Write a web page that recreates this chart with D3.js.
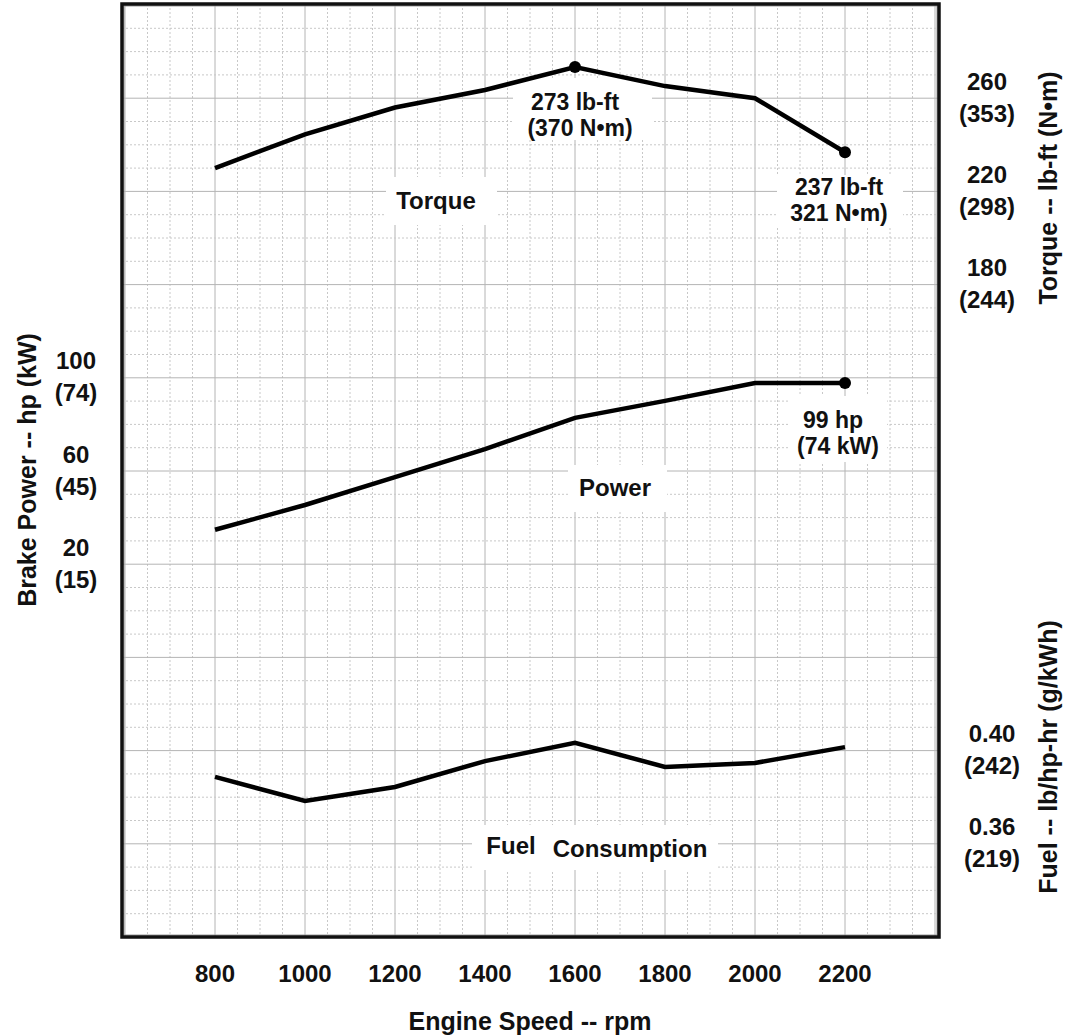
<!DOCTYPE html>
<html><head><meta charset="utf-8">
<script src="https://cdn.jsdelivr.net/npm/d3@7"></script>
<style>
html,body{margin:0;padding:0;background:#fff;}
svg text{font-family:"Liberation Sans",Arial,Helvetica,sans-serif;font-weight:bold;fill:#111;}
</style></head>
<body><svg id="c" width="1068" height="1035"></svg>
<script>
// ---- data ----
const rpm = [800, 1000, 1200, 1400, 1600, 1800, 2000, 2200];
const torqueLbFt = [230, 244.5, 256, 263.5, 273.4, 265.2, 260, 236.8];
const powerHp = [34.8, 45.4, 57.4, 69.4, 82.8, 90.1, 97.8, 97.8];
const fuelLbHpHr = [0.3887, 0.3784, 0.3844, 0.3955, 0.4033, 0.393, 0.3947, 0.4015];

const xTicks = [800, 1000, 1200, 1400, 1600, 1800, 2000, 2200];
const powerTicks = [100, 60, 20];
const powerTicksKw = ["(74)", "(45)", "(15)"];
const torqueTicks = [260, 220, 180];
const torqueTicksNm = ["(353)", "(298)", "(244)"];
const fuelTicks = [0.40, 0.36];
const fuelTicksGkWh = ["(242)", "(219)"];

const torqueMarkers = [1600, 2200];
const powerMarkers = [2200];

// ---- layout ----
const svg = d3.select("#c");
const L = 122, R = 939, T = 4, B = 937;
const gy = d3.scaleLinear().domain([0, 40]).range([5, 937]);   // grid rows (minor)
const x = d3.scaleLinear().domain([600, 2400]).range([125, 935]);
const yTorque = d3.scaleLinear().domain([260, 180]).range([gy(4), gy(12)]);
const yPower = d3.scaleLinear().domain([100, 20]).range([gy(16), gy(24)]);
const yFuel = d3.scaleLinear().domain([0.40, 0.36]).range([gy(32), gy(36)]);

// grid
const g = svg.append("g");
const vLines = d3.range(600, 2401, 50);
g.selectAll("line.v").data(vLines).enter().append("line")
  .attr("x1", d => x(d)).attr("x2", d => x(d)).attr("y1", T).attr("y2", B)
  .attr("stroke", d => d % 200 === 0 ? "#b4b4b4" : "#c8c8c8")
  .attr("stroke-width", 1)
  .attr("stroke-dasharray", d => d % 200 === 0 ? null : "2,2");
const hLines = d3.range(0, 41);
g.selectAll("line.h").data(hLines).enter().append("line")
  .attr("x1", L).attr("x2", R).attr("y1", d => gy(d)).attr("y2", d => gy(d))
  .attr("stroke", d => d % 4 === 0 ? "#b4b4b4" : "#c8c8c8")
  .attr("stroke-width", 1)
  .attr("stroke-dasharray", d => d % 4 === 0 ? null : "2,2");

// label boxes (white)
const boxes = [
  [513, 78, 139, 62], [777, 175, 126, 53], [790, 396, 97, 66],
  [386, 177, 111, 48], [568, 465, 99, 47], [472, 825, 246, 45]
];
svg.selectAll("rect.box").data(boxes).enter().append("rect")
  .attr("x", d => d[0]).attr("y", d => d[1]).attr("width", d => d[2]).attr("height", d => d[3])
  .attr("fill", "#fff");

// lines
function drawLine(vals, ys) {
  const line = d3.line().x((d, i) => x(rpm[i])).y(d => ys(d));
  svg.append("path").datum(vals).attr("d", line)
    .attr("fill", "none").attr("stroke", "#000").attr("stroke-width", 4.5)
    .attr("stroke-linejoin", "miter");
}
drawLine(torqueLbFt, yTorque);
drawLine(powerHp, yPower);
drawLine(fuelLbHpHr, yFuel);

svg.selectAll("circle.t").data(torqueMarkers).enter().append("circle")
  .attr("cx", d => x(d)).attr("cy", d => yTorque(torqueLbFt[rpm.indexOf(d)])).attr("r", 6).attr("fill", "#000");
svg.selectAll("circle.p").data(powerMarkers).enter().append("circle")
  .attr("cx", d => x(d)).attr("cy", d => yPower(powerHp[rpm.indexOf(d)])).attr("r", 6).attr("fill", "#000");

// border (dark frame with faint gray shadow)
svg.append("rect").attr("x", L + 2).attr("y", T + 2).attr("width", R - L - 4).attr("height", B - T - 4)
  .attr("fill", "none").attr("stroke", "#999").attr("stroke-width", 1);
svg.append("rect").attr("x", L).attr("y", T).attr("width", R - L).attr("height", B - T)
  .attr("fill", "none").attr("stroke", "#111").attr("stroke-width", 3.5);

// annotations
function txt(s, cx, cy, size) {
  svg.append("text").attr("x", cx).attr("y", cy + (size || 24) * 0.36)
    .attr("text-anchor", "middle").attr("font-size", size || 24).text(s);
}
txt("273 lb-ft", 575, 102, 23);
txt("(370 N\u2022m)", 580, 128, 23);
txt("237 lb-ft", 839, 187, 23);
txt("321 N\u2022m)", 839, 213, 23);
txt("99 hp", 833, 420, 23);
txt("(74 kW)", 838, 446, 23);
txt("Torque", 436, 200);
txt("Power", 615, 487);
txt("Fuel", 511, 845);
txt("Consumption", 630, 848);

// x ticks
svg.selectAll("text.xt").data(xTicks).enter().append("text")
  .attr("x", d => x(d)).attr("y", 982).attr("text-anchor", "middle").attr("font-size", 24)
  .text(d => d);
svg.append("text").attr("x", 530).attr("y", 1030).attr("text-anchor", "middle")
  .attr("font-size", 25).text("Engine Speed -- rpm");

// tick label pairs
function pairTicks(vals, alt, scale, cx) {
  vals.forEach((v, i) => {
    svg.append("text").attr("x", cx).attr("y", scale(v) - 8.5).attr("text-anchor", "middle")
      .attr("font-size", 24).text(typeof v === "number" && v < 1 ? v.toFixed(2) : v);
    svg.append("text").attr("x", cx).attr("y", scale(v) + 23.5).attr("text-anchor", "middle")
      .attr("font-size", 24).text(alt[i]);
  });
}
pairTicks(powerTicks, powerTicksKw, yPower, 76);
pairTicks(torqueTicks, torqueTicksNm, yTorque, 987);
pairTicks(fuelTicks, fuelTicksGkWh, yFuel, 992);

// axis titles
function vTitle(s, cx, cy) {
  svg.append("text").attr("transform", `translate(${cx + 9},${cy}) rotate(-90)`)
    .attr("text-anchor", "middle").attr("font-size", 25).text(s);
}
vTitle("Brake Power -- hp (kW)", 27, 470);
vTitle("Torque -- lb-ft (N\u2022m)", 1048, 188);
vTitle("Fuel -- lb/hp-hr (g/kWh)", 1048, 757);
</script></body></html>
